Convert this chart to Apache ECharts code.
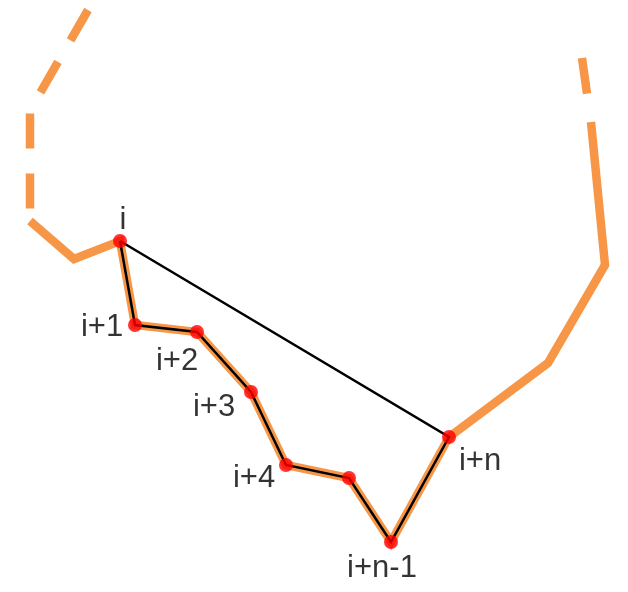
<!DOCTYPE html>
<html>
<head>
<meta charset="utf-8">
<script src="https://cdn.jsdelivr.net/npm/echarts@6/dist/echarts.min.js"></script>
<style>
    html, body { margin: 0; padding: 0; background: #ffffff; }
    #chart { width: 628px; height: 592px; }
</style>
</head>
<body>
<div id="chart"></div>
<script>
// #region Data
// key points of the polyline (x right, y down)
const ptX = [120, 135, 197, 251, 286, 349, 391, 449];
const ptY = [241, 325, 332, 392, 465, 478, 542, 437];
const ptNames = ["i", "i+1", "i+2", "i+3", "i+4", "", "i+n-1", "i+n"];

// curve before point i: dashed part, then solid part
const leadDashX = [88, 36, 30, 30];
const leadDashY = [10, 100, 106, 221];
const leadX = [30, 74];
const leadY = [221, 259];

// curve after point i+n: solid part, then dashed part
const trailX = [548, 605, 591];
const trailY = [363, 265, 122];
const trailDashX = [582, 591];
const trailDashY = [58, 122];
// #endregion

// #region Label placement (offset from point centre)
const labelOffsets = [[3, -21], [-33, 2], [-20, 29], [-37, 15], [-32, 13], [0, 0], [-9, 26], [31, 24]];
// #endregion

const ORANGE = "#f79646";

const zip = (xs, ys) => xs.map((x, k) => [x, ys[k]]);

const points = zip(ptX, ptY);
const curve = zip(leadX, leadY).concat(points, zip(trailX, trailY));
const polygon = points.concat([points[0]]);

const chart = echarts.init(document.getElementById("chart"), null, { renderer: "canvas" });

const lineBase = {
    type: "line",
    symbol: "none",
    silent: true,
    animation: false
};

chart.setOption({
    animation: false,
    grid: { left: 0, right: 0, top: 0, bottom: 0 },
    xAxis: { type: "value", min: 0, max: 628, show: false },
    yAxis: { type: "value", min: 0, max: 592, inverse: true, show: false },
    series: [
        {
            ...lineBase,
            data: zip(leadDashX, leadDashY),
            lineStyle: { color: ORANGE, width: 8.5, type: [35, 25], cap: "butt", join: "miter" },
            z: 1
        },
        {
            ...lineBase,
            data: zip(trailDashX, trailDashY),
            lineStyle: { color: ORANGE, width: 8.5, type: [36, 30], cap: "butt", join: "miter" },
            z: 1
        },
        {
            ...lineBase,
            data: curve,
            lineStyle: { color: ORANGE, width: 8.5, type: "solid", cap: "butt", join: "miter" },
            z: 1
        },
        {
            ...lineBase,
            data: polygon,
            lineStyle: { color: "#000000", width: 2.5, join: "miter" },
            z: 2
        },
        {
            type: "scatter",
            symbol: "circle",
            symbolSize: 14,
            silent: true,
            z: 3,
            itemStyle: { color: "#ff0000" },
            label: {
                show: true,
                position: "inside",
                align: "center",
                verticalAlign: "middle",
                color: "#000000",
                fontFamily: "Liberation Sans",
                fontSize: 31,
                formatter: p => ptNames[p.dataIndex]
            },
            data: points.map((p, k) => ({
                value: p,
                label: { offset: labelOffsets[k] }
            }))
        }
    ]
});
</script>
</body>
</html>
